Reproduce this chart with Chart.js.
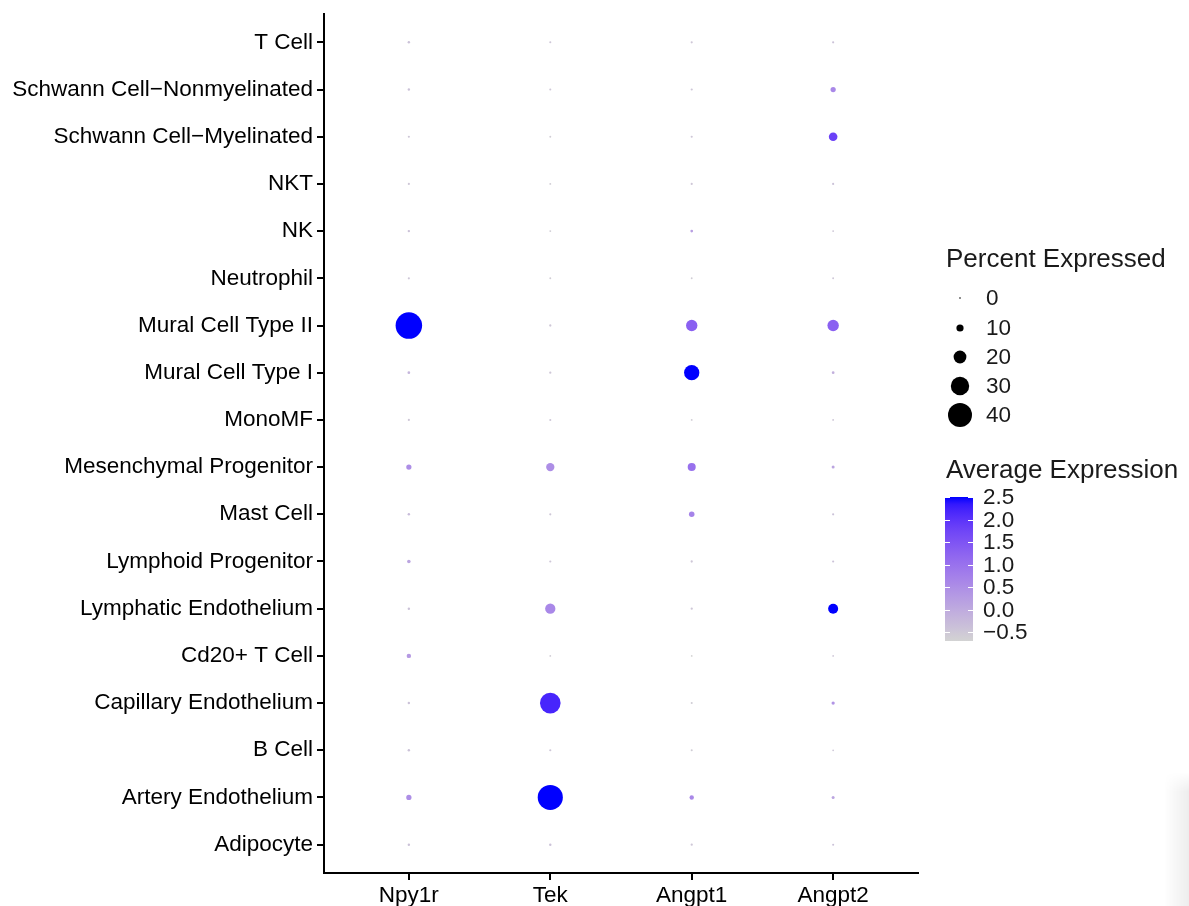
<!DOCTYPE html>
<html>
<head>
<meta charset="utf-8">
<title>Dot plot</title>
<script src="https://cdn.jsdelivr.net/npm/chart.js@4.4.1/dist/chart.umd.min.js"></script>
<style>
  html, body { margin: 0; padding: 0; background: #ffffff; }
  #wrap { position: relative; width: 1189px; height: 906px; overflow: hidden; }
  #edge { position: absolute; left: 1164px; top: 772px; width: 25px; height: 134px;
          background: linear-gradient(to right, rgba(0,0,0,0), rgba(0,0,0,0.07));
          -webkit-mask-image: linear-gradient(to bottom, rgba(0,0,0,0), #000 20px);
          mask-image: linear-gradient(to bottom, rgba(0,0,0,0), #000 20px); }
</style>
</head>
<body>
<div id="wrap">
  <canvas id="dots" width="1189" height="906"></canvas>
  <div id="edge"></div>
</div>
<script>
// Genes along the x axis
const genes = ['Npy1r', 'Tek', 'Angpt1', 'Angpt2'];

// Cell types along the y axis, bottom to top
const cellTypes = [
  'Adipocyte', 'Artery Endothelium', 'B Cell', 'Capillary Endothelium', 'Cd20+ T Cell',
  'Lymphatic Endothelium', 'Lymphoid Progenitor', 'Mast Cell', 'Mesenchymal Progenitor',
  'MonoMF', 'Mural Cell Type I', 'Mural Cell Type II', 'Neutrophil', 'NK', 'NKT',
  'Schwann Cell\u2212Myelinated', 'Schwann Cell\u2212Nonmyelinated', 'T Cell'
];

// Percent of cells expressing each gene (same order as cellTypes)
const pctNpy1r  = [1.5, 6.5, 1.5, 1.5, 5, 1.5, 3.5, 1.5, 6.5, 1, 2, 44.5, 1, 1.5, 1, 1, 1.5, 1.5];
const pctTek    = [1.5, 42, 1, 34, 0.3, 15.5, 1, 1, 12, 0.8, 1.2, 1.2, 0.5, 0.5, 0.5, 0.5, 0.8, 0.8];
const pctAngpt1 = [1.2, 5, 0.8, 0.8, 0.3, 1.2, 1.2, 7, 11.5, 0.5, 24.5, 17.5, 0.5, 2, 1, 1, 1, 1];
const pctAngpt2 = [0.8, 2.5, 0.3, 3, 0.3, 15, 1, 1, 2.5, 0.5, 2, 17.5, 0.5, 0.5, 1, 12.5, 6.5, 1];

// Scaled average expression (same order as cellTypes)
const avgNpy1r  = [-0.4, 0.5, -0.4, -0.4, 0.3, -0.4, 0.1, -0.3, 0.5, -0.5, -0.2, 2.5, -0.5, -0.4, -0.5, -0.5, -0.4, -0.4];
const avgTek    = [-0.4, 2.5, -0.5, 2.2, -0.6, 0.6, -0.5, -0.5, 0.5, -0.5, -0.5, -0.5, -0.6, -0.6, -0.6, -0.6, -0.5, -0.5];
const avgAngpt1 = [-0.5, 0.6, -0.6, -0.6, -0.7, -0.5, -0.5, 0.7, 1.0, -0.6, 2.5, 1.3, -0.6, 0.2, -0.5, -0.5, -0.5, -0.5];
const avgAngpt2 = [-0.4, 0.1, -0.5, 0.4, -0.5, 2.5, -0.4, -0.4, 0.1, -0.5, -0.1, 1.3, -0.5, -0.5, -0.4, 1.8, 0.6, -0.4];

// Legend breaks
const sizeBreaks = [0, 10, 20, 30, 40];
const colorTicks = [-0.5, 0.0, 0.5, 1.0, 1.5, 2.0, 2.5];
const colorLimits = [-0.7, 2.5];

const pctByGene = [pctNpy1r, pctTek, pctAngpt1, pctAngpt2];
const avgByGene = [avgNpy1r, avgTek, avgAngpt1, avgAngpt2];

// ---- size scale: radius grows linearly with percent ----
function dotRadius(pct) { return 0.8 + 0.28 * pct; }

// ---- colour scale: lightgrey -> blue, interpolated in CIE Lab ----
function toLin(c) { c /= 255; return c <= 0.04045 ? c / 12.92 : Math.pow((c + 0.055) / 1.055, 2.4); }
function fromLin(c) {
  c = c <= 0.0031308 ? 12.92 * c : 1.055 * Math.pow(c, 1 / 2.4) - 0.055;
  return Math.round(Math.max(0, Math.min(1, c)) * 255);
}
const WX = 0.95047, WY = 1.0, WZ = 1.08883;
function rgbToLab(rgb) {
  const r = toLin(rgb[0]), g = toLin(rgb[1]), b = toLin(rgb[2]);
  const X = (0.4124564 * r + 0.3575761 * g + 0.1804375 * b) / WX;
  const Y = (0.2126729 * r + 0.7151522 * g + 0.0721750 * b) / WY;
  const Z = (0.0193339 * r + 0.1191920 * g + 0.9503041 * b) / WZ;
  const f = t => t > 0.008856 ? Math.cbrt(t) : 7.787 * t + 16 / 116;
  const fx = f(X), fy = f(Y), fz = f(Z);
  return [116 * fy - 16, 500 * (fx - fy), 200 * (fy - fz)];
}
function labToRgb(lab) {
  const fy = (lab[0] + 16) / 116, fx = fy + lab[1] / 500, fz = fy - lab[2] / 200;
  const inv = t => t * t * t > 0.008856 ? t * t * t : (t - 16 / 116) / 7.787;
  const X = inv(fx) * WX, Y = inv(fy) * WY, Z = inv(fz) * WZ;
  const r = 3.2404542 * X - 1.5371385 * Y - 0.4985314 * Z;
  const g = -0.9692660 * X + 1.8760108 * Y + 0.0415560 * Z;
  const b = 0.0556434 * X - 0.2040259 * Y + 1.0572252 * Z;
  return [fromLin(r), fromLin(g), fromLin(b)];
}
const LAB_LOW = rgbToLab([211, 211, 211]);
const LAB_HIGH = rgbToLab([0, 0, 255]);
function colorFor(v) {
  let t = (v - colorLimits[0]) / (colorLimits[1] - colorLimits[0]);
  t = Math.max(0, Math.min(1, t));
  const lab = [0, 1, 2].map(k => LAB_LOW[k] + (LAB_HIGH[k] - LAB_LOW[k]) * t);
  const c = labToRgb(lab);
  return 'rgb(' + c[0] + ',' + c[1] + ',' + c[2] + ')';
}

const datasets = genes.map((g, gi) => ({
  label: g,
  data: cellTypes.map((c, i) => ({ x: gi, y: i, r: dotRadius(pctByGene[gi][i]), v: avgByGene[gi][i] })),
  backgroundColor: ctx => colorFor(ctx.raw ? ctx.raw.v : 0),
  borderWidth: 0,
  hoverRadius: 0,
  hoverBorderWidth: 0
}));

const FONT = '"Liberation Sans", Arial, sans-serif';
const AXIS_SIZE = 22.5;

// Legends for size and colour, drawn at the right of the panel
const legendPlugin = {
  id: 'dotLegends',
  afterDraw(chart) {
    const ctx = chart.ctx;
    ctx.save();
    ctx.fillStyle = '#1a1a1a';
    ctx.textBaseline = 'middle';
    ctx.textAlign = 'left';

    // Percent Expressed
    ctx.font = '26px ' + FONT;
    ctx.fillText('Percent Expressed', 946, 260);
    const rowY = [298, 328, 357, 386, 415];
    sizeBreaks.forEach((b, i) => {
      ctx.fillStyle = '#000';
      ctx.beginPath();
      ctx.arc(960, rowY[i], dotRadius(b), 0, Math.PI * 2);
      ctx.fill();
      ctx.fillStyle = '#1a1a1a';
      ctx.font = AXIS_SIZE + 'px ' + FONT;
      ctx.fillText(String(b), 986, rowY[i] + 1);
    });

    // Average Expression
    ctx.font = '26px ' + FONT;
    ctx.fillText('Average Expression', 946, 471);
    const barX = 945, barW = 28, barTop = 497, barBot = 641;
    const yOf = v => barBot - (v - colorLimits[0]) / (colorLimits[1] - colorLimits[0]) * (barBot - barTop);
    const grad = ctx.createLinearGradient(0, barBot, 0, barTop);
    for (let k = 0; k <= 20; k++) {
      const t = k / 20;
      grad.addColorStop(t, colorFor(colorLimits[0] + t * (colorLimits[1] - colorLimits[0])));
    }
    ctx.fillStyle = grad;
    ctx.fillRect(barX, barTop, barW, barBot - barTop);
    ctx.strokeStyle = '#ffffff';
    ctx.lineWidth = 1;
    ctx.font = AXIS_SIZE + 'px ' + FONT;
    colorTicks.forEach(v => {
      const y = Math.round(yOf(v)) + 0.5;
      ctx.beginPath();
      ctx.moveTo(barX, y); ctx.lineTo(barX + 5, y);
      ctx.moveTo(barX + barW - 5, y); ctx.lineTo(barX + barW, y);
      ctx.stroke();
      ctx.fillStyle = '#1a1a1a';
      const txt = v < 0 ? '\u2212' + Math.abs(v).toFixed(1) : v.toFixed(1);
      ctx.fillText(txt, 983, yOf(v) + 1);
    });
    ctx.restore();
  }
};

new Chart(document.getElementById('dots'), {
  type: 'bubble',
  data: { datasets },
  options: {
    responsive: false,
    animation: false,
    events: [],
    layout: { padding: { top: 14, right: 271, bottom: 0, left: 0 } },
    plugins: { legend: { display: false }, tooltip: { enabled: false } },
    scales: {
      x: {
        type: 'linear',
        min: -0.6,
        max: genes.length - 1 + 0.6,
        afterBuildTicks: s => { s.ticks = genes.map((g, i) => ({ value: i })); },
        afterFit: s => { s.height = 33; s.paddingLeft = 0; s.paddingRight = 0; },
        ticks: {
          autoSkip: false,
          maxRotation: 0,
          padding: 2,
          color: '#000',
          font: { family: FONT, size: AXIS_SIZE },
          callback: v => genes[v]
        },
        grid: { display: true, drawOnChartArea: false, drawTicks: true, tickLength: 7, color: '#000', lineWidth: 2 },
        border: { display: true, color: '#000', width: 2 }
      },
      y: {
        type: 'linear',
        min: -0.6,
        max: cellTypes.length - 1 + 0.6,
        afterBuildTicks: s => { s.ticks = cellTypes.map((c, i) => ({ value: i })); },
        afterFit: s => { s.width = 324; s.paddingTop = 0; s.paddingBottom = 0; },
        ticks: {
          autoSkip: false,
          padding: 4,
          color: '#000',
          font: { family: FONT, size: AXIS_SIZE },
          callback: v => cellTypes[v]
        },
        grid: { display: true, drawOnChartArea: false, drawTicks: true, tickLength: 7, color: '#000', lineWidth: 2 },
        border: { display: true, color: '#000', width: 2 }
      }
    }
  },
  plugins: [legendPlugin]
});
</script>
</body>
</html>
